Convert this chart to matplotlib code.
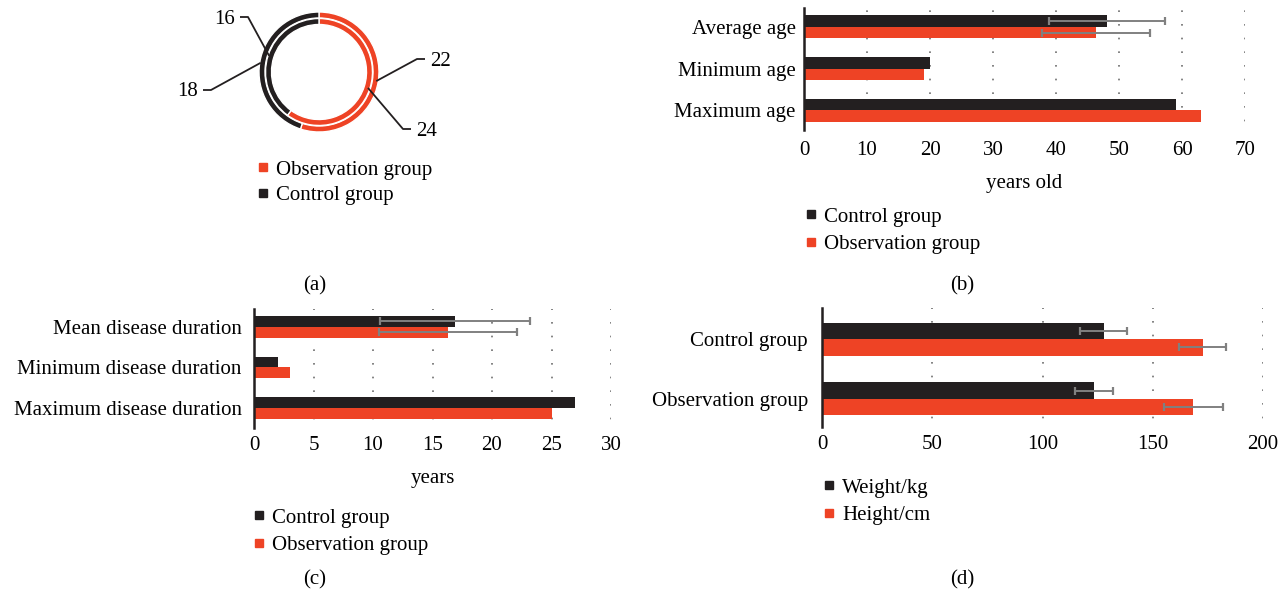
import numpy as np
import matplotlib.pyplot as plt
from matplotlib.lines import Line2D

plt.rcParams['font.family'] = ['Liberation Serif', 'DejaVu Serif']
plt.rcParams['font.size'] = 15

RED = '#EE4325'
BLACK = '#231F20'
GREY = '#808080'

#                               DATA

# (a) sex split, outer ring and inner ring
ring_groups = ['Observation group', 'Control group']
ring_outer = [22, 18]
ring_inner = [24, 16]

# (b) age
age_cats = ['Average age', 'Minimum age', 'Maximum age']
age_control = [48.1, 20, 59]
age_obs = [46.3, 19, 63]
age_sd_control = 9.2
age_sd_obs = 8.6

# (c) disease duration
dur_cats = ['Mean disease duration', 'Minimum disease duration', 'Maximum disease duration']
dur_control = [16.9, 2, 27]
dur_obs = [16.3, 3, 25]
dur_sd_control = 6.3
dur_sd_obs = 5.8

# (d) weight / height
body_cats = ['Control group', 'Observation group']
weight = [127.7, 123.4]
weight_sd = [10.7, 8.5]
height = [172.6, 168.4]
height_sd = [10.7, 13.5]

W, H = 1288, 597
FS = 15
fig = plt.figure(figsize=(W / 100, H / 100), dpi=100)


def px_axes(x0, y0, x1, y1):
    # axes box from pixel corners (top-left origin)
    return fig.add_axes([x0 / W, 1 - y1 / H, (x1 - x0) / W, (y1 - y0) / H])


def sq_legend(ax, labels, colors, x, y, spacing=0.38):
    handles = [Line2D([], [], ls='none', marker='s', ms=5.5, color=c) for c in colors]
    ax.legend(handles, labels, loc='upper left', bbox_to_anchor=(x / W, 1 - y / H),
              bbox_transform=fig.transFigure, frameon=False, borderpad=0,
              borderaxespad=0, handlelength=0.55, handletextpad=0.38,
              labelspacing=spacing, fontsize=FS)


def hbars(ax, cats, top_vals, bot_vals, bar_h, xmax, step, ylim, pad, xpad=6):
    y = np.arange(len(cats))
    ax.set_axisbelow(True)
    ax.barh(y - bar_h / 2, top_vals, height=bar_h, color=BLACK, zorder=2)
    ax.barh(y + bar_h / 2, bot_vals, height=bar_h, color=RED, zorder=2)
    ax.set_yticks(y)
    ax.set_yticklabels(cats)
    ax.set_ylim(*ylim)
    ax.set_xlim(0, xmax)
    ax.set_xticks(np.arange(0, xmax + step / 2, step))
    ax.tick_params(length=0, labelsize=FS)
    ax.tick_params(axis='y', pad=pad)
    ax.tick_params(axis='x', pad=xpad)
    for s in ['top', 'right', 'bottom']:
        ax.spines[s].set_visible(False)
    ax.spines['left'].set_linewidth(1.8)
    ax.spines['left'].set_color(BLACK)
    for t in ax.get_xticks()[1:]:
        ax.axvline(t, color='#6E6E6E', lw=1.2, ls=(3, (1, 7.2)), zorder=0)
    return y


def err(ax, yv, xv, sd):
    ax.errorbar(xv, yv, xerr=sd, fmt='none', ecolor=GREY, elinewidth=1.4,
                capsize=2.6, capthick=1.6, zorder=3)


#                               (a)

ax_a = px_axes(150, 0, 490, 150)
r_out, r_in, ring_w = 60, 53.5, 6
ax_a.pie(ring_outer, colors=[RED, BLACK], radius=r_out, startangle=90,
         counterclock=False, wedgeprops=dict(width=ring_w, edgecolor='white', linewidth=1.0))
ax_a.pie(ring_inner, colors=[RED, BLACK], radius=r_in, startangle=90,
         counterclock=False, wedgeprops=dict(width=ring_w, edgecolor='white', linewidth=1.0))
ax_a.set_xlim(-169, 171)
ax_a.set_ylim(-78, 72)
ax_a.set_aspect('equal')
ax_a.axis('off')


def mid_angle(vals, k):
    total = sum(vals)
    start = 90 - 360 * sum(vals[:k]) / total
    return np.deg2rad(start - 180 * vals[k] / total)


# leader lines: ring point -> elbow -> short horizontal -> value text
leaders = [
    (ring_outer, 0, r_out - 2, (98, 13), 1),
    (ring_inner, 0, r_in - 2, (84, -57), 1),
    (ring_outer, 1, r_out - 1, (-108, -18), -1),
    (ring_inner, 1, r_in - 1, (-71, 55), -1),
]
for vals, k, rr, (ex, ey), side in leaders:
    a = mid_angle(vals, k)
    px, py = rr * np.cos(a), rr * np.sin(a)
    hx = ex + side * 8
    ax_a.plot([px, ex, hx], [py, ey, ey], color=BLACK, lw=1.3, solid_capstyle='butt')
    ax_a.text(hx + side * 5, ey - 2, str(vals[k]), ha='left' if side > 0 else 'right',
              va='center', fontsize=FS)

sq_legend(ax_a, ring_groups, [RED, BLACK], 257, 160, spacing=0.28)

#                               (b)

ax_b = px_axes(804, 8, 1245, 130)
yb = hbars(ax_b, age_cats, age_control, age_obs, 0.275, 70, 10, (2.47, -0.45), 6, xpad=8)
err(ax_b, yb[0] - 0.1375, age_control[0], age_sd_control)
err(ax_b, yb[0] + 0.1375, age_obs[0], age_sd_obs)
ax_b.set_xlabel('years old', labelpad=10, fontsize=FS)
sq_legend(ax_b, ['Control group', 'Observation group'], [BLACK, RED], 805, 207)

#                               (c)

ax_c = px_axes(254, 309, 611, 428)
yc = hbars(ax_c, dur_cats, dur_control, dur_obs, 0.27, 30, 5, (2.49, -0.44), 9)
err(ax_c, yc[0] - 0.135, dur_control[0], dur_sd_control)
err(ax_c, yc[0] + 0.135, dur_obs[0], dur_sd_obs)
ax_c.set_xlabel('years', labelpad=10, fontsize=FS)
sq_legend(ax_c, ['Control group', 'Observation group'], [BLACK, RED], 253, 508)

#                               (d)

ax_d = px_axes(822, 308, 1263, 427)
yd = hbars(ax_d, body_cats, weight, height, 0.275, 200, 50, (1.47, -0.52), 10)
err(ax_d, yd - 0.1375, weight, weight_sd)
err(ax_d, yd + 0.1375, height, height_sd)
sq_legend(ax_d, ['Weight/kg', 'Height/cm'], [BLACK, RED], 823, 478)

#                               PANEL LETTERS

for lab, x, y in [('(a)', 315, 286), ('(b)', 962, 286), ('(c)', 315, 580), ('(d)', 962, 580)]:
    fig.text(x / W, 1 - y / H, lab, ha='center', va='center', fontsize=FS)

fig.savefig('out.png', dpi=100)
